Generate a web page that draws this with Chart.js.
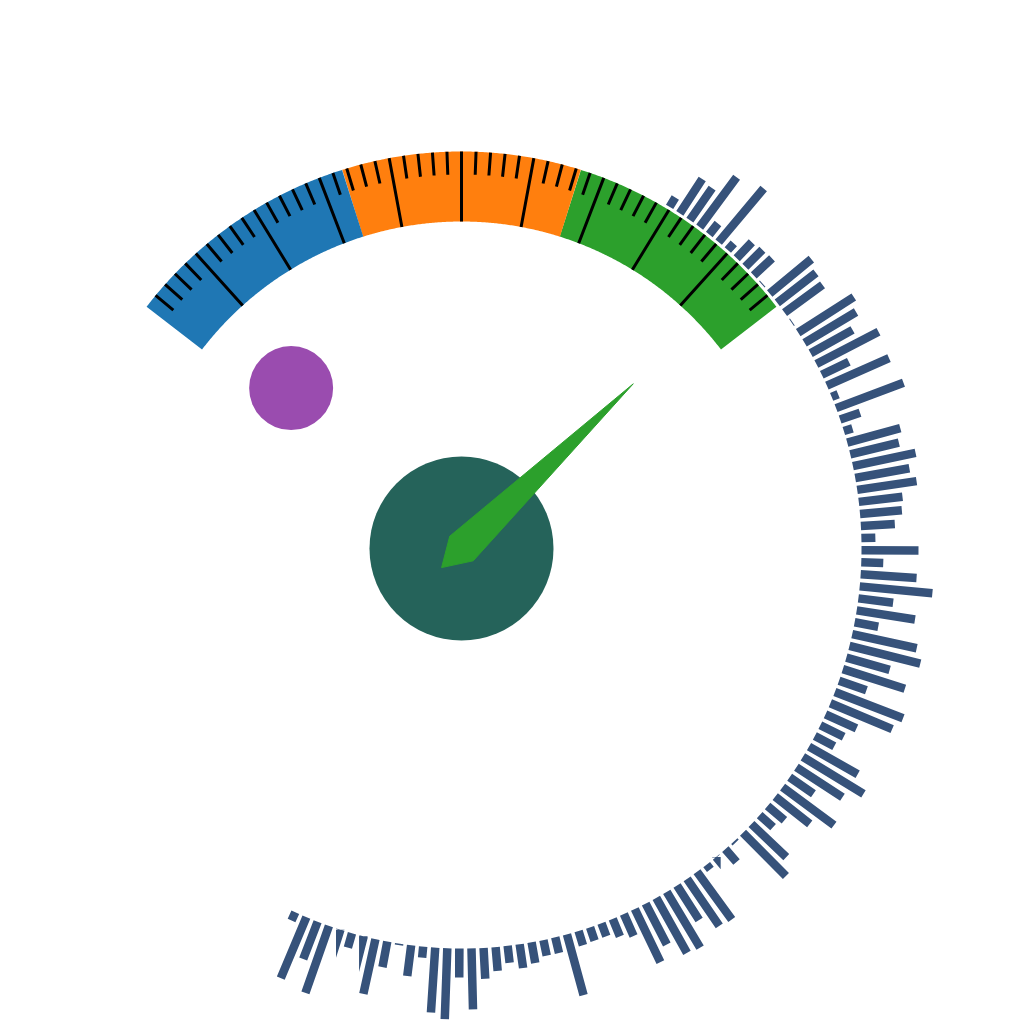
<!DOCTYPE html>
<html>
<head>
<meta charset="utf-8">
<script src="https://cdn.jsdelivr.net/npm/chart.js@4.4.1/dist/chart.umd.min.js"></script>
<style>
  html, body { margin: 0; padding: 0; background: #ffffff; }
  #wrap { width: 1024px; height: 1024px; }
</style>
</head>
<body>
<div id="wrap"><canvas id="c" width="1024" height="1024"></canvas></div>
<script>
// ================= DATA =================
const gaugeMin = 0;
const gaugeMax = 100;
const bandStops = [0, 33.333, 66.667, 100];
const bandColors = ['#1f77b4', '#ff7f0e', '#2ca02c'];
const majorTicks = [10, 20, 30, 40, 50, 60, 70, 80, 90];
const minorTicks = [2, 4, 6, 8, 12, 14, 16, 18, 22, 24, 26, 28, 32, 34, 36, 38,
                    42, 44, 46, 48, 52, 54, 56, 58, 62, 64, 66, 68, 72, 74, 76, 78,
                    82, 84, 86, 88, 92, 94, 96, 98];
const needleValue = 94;
const markerValue = 5.5;
const barValues = [
  11, 41, 39, 62, 14, 70, 9, 22, 24, 25,
  1, 54, 49, 47, 1, 66, 60, 48, 70, 30,
  68, 7, 72, 21, 9, 55, 50, 64, 55, 60,
  44, 42, 34, 14, 57, 22, 56, 73, 35, 59,
  24, 66, 73, 45, 65, 29, 73, 67, 34, 26,
  22, 56, 71, 55, 29, 64, 44, 22, 18, 48,
  61, 2, 17, 0.5, 6, 59, 57, 41, 65, 63,
  46, 59, 24, 19, 14, 14, 15, 63, 16, 16,
  21, 24, 17, 24, 31, 61, 29, 71, 65, 11,
  31, 1.5, 26, 56, 1.5, 15, 0.5, 71, 40, 66,
  9
];

// ================= LAYOUT =================
const CX = 461.5, CY = 548.5;           // centre in canvas pixels
const ARC_START = -52.5, ARC_END = 52.5; // gauge sweep (deg from top, clockwise)
const R_OUT = 397, R_IN = 327;
const MINOR_IN = 374;
const BAR_BASE = 400, BAR_START = 31.35, BAR_STEP = 1.732, BAR_WIDTH = 8.5;
const NEEDLE_LEN = 238, NEEDLE_HALF = 17, NEEDLE_TAIL = 27.6;
const MARKER_R = 234;

const rad = d => d * Math.PI / 180;
const polar = (deg, r) => ({ x: r * Math.sin(rad(deg)), y: r * Math.cos(rad(deg)) });
const valToAngle = v => ARC_START + (v - gaugeMin) / (gaugeMax - gaugeMin) * (ARC_END - ARC_START);
const GAP = { x: null, y: null };

// gauge bands (thick arcs)
const bandDatasets = bandColors.map((col, i) => {
  const a0 = valToAngle(bandStops[i]), a1 = valToAngle(bandStops[i + 1]);
  const pts = [];
  const n = Math.ceil((a1 - a0) / 0.25);
  for (let j = 0; j <= n; j++) pts.push(polar(a0 + (a1 - a0) * j / n, (R_OUT + R_IN) / 2));
  return {
    data: pts, showLine: true, borderColor: col, borderWidth: R_OUT - R_IN,
    borderCapStyle: 'butt', borderJoinStyle: 'miter', pointRadius: 0, order: 6
  };
});

function tickSegments(values, rIn, rOut) {
  const pts = [];
  values.forEach(v => { const a = valToAngle(v); pts.push(polar(a, rIn), polar(a, rOut), GAP); });
  return pts;
}

const barPts = [];
barValues.forEach((v, k) => {
  const a = BAR_START + k * BAR_STEP;
  barPts.push(polar(a, BAR_BASE), polar(a, BAR_BASE + v), GAP);
});

const na = valToAngle(needleValue);
const needlePts = [
  polar(na, NEEDLE_LEN), polar(na + 90, NEEDLE_HALF), polar(na + 180, NEEDLE_TAIL),
  polar(na - 90, NEEDLE_HALF), polar(na, NEEDLE_LEN)
];

new Chart(document.getElementById('c'), {
  type: 'scatter',
  data: {
    datasets: [
      ...bandDatasets,
      { data: tickSegments(majorTicks, R_IN, R_OUT), showLine: true, spanGaps: false,
        borderColor: '#000000', borderWidth: 3, borderCapStyle: 'butt', pointRadius: 0, order: 5 },
      { data: tickSegments(minorTicks, MINOR_IN, R_OUT), showLine: true, spanGaps: false,
        borderColor: '#000000', borderWidth: 3, borderCapStyle: 'butt', pointRadius: 0, order: 5 },
      { data: barPts, showLine: true, spanGaps: false, borderColor: '#36527a',
        borderWidth: BAR_WIDTH, borderCapStyle: 'butt', pointRadius: 0, order: 7 },
      { data: [polar(valToAngle(markerValue), MARKER_R)], showLine: false, pointRadius: 42,
        pointBackgroundColor: '#9a4caf', pointBorderWidth: 0, order: 3 },
      { data: [{ x: 0, y: 0 }], showLine: false, pointRadius: 92,
        pointBackgroundColor: '#25635a', pointBorderWidth: 0, order: 2 },
      { data: needlePts, showLine: true, fill: 'shape', backgroundColor: '#2ca02c',
        borderColor: '#2ca02c', borderWidth: 1, pointRadius: 0, order: 1 }
    ]
  },
  options: {
    responsive: false,
    devicePixelRatio: 1,
    animation: false,
    events: [],
    layout: { padding: 0, autoPadding: false },
    plugins: { legend: { display: false }, tooltip: { enabled: false }, title: { display: false } },
    elements: { line: { tension: 0 } },
    scales: {
      x: { type: 'linear', display: false, min: -CX, max: 1024 - CX },
      y: { type: 'linear', display: false, min: -(1024 - CY), max: CY }
    }
  }
});
</script>
</body>
</html>
